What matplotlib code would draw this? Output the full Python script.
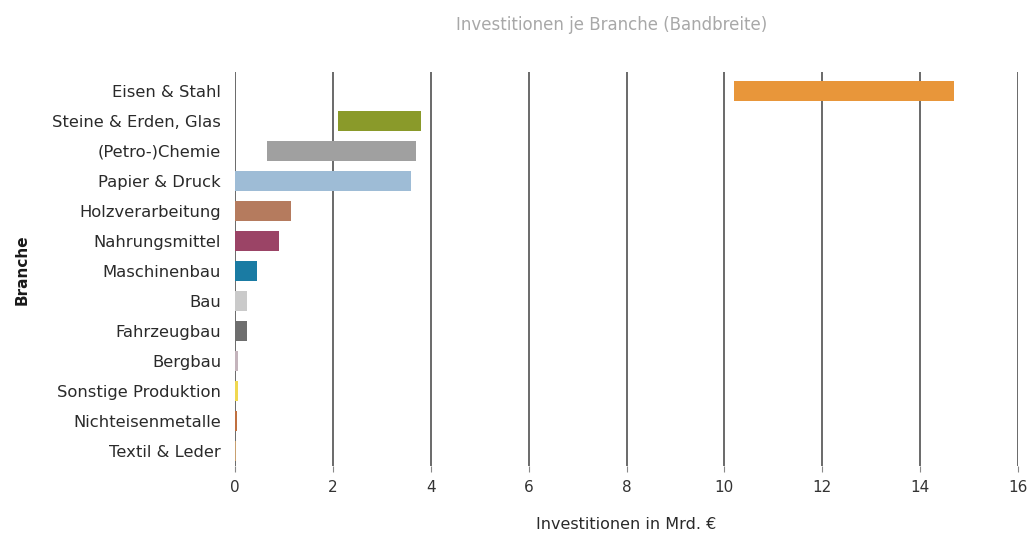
import matplotlib.pyplot as plt

branchen = ["Eisen & Stahl", "Steine & Erden, Glas", "(Petro-)Chemie", "Papier & Druck",
            "Holzverarbeitung", "Nahrungsmittel", "Maschinenbau", "Bau", "Fahrzeugbau",
            "Bergbau", "Sonstige Produktion", "Nichteisenmetalle", "Textil & Leder"]
# Bandbreite: untere und obere Grenze in Mrd. EUR
von = [10.2, 2.1, 0.65, 0.0, 0.0, 0.0, 0.0, 0.0, 0.0, 0.0, 0.0, 0.0, 0.0]
bis = [14.7, 3.8, 3.7, 3.6, 1.15, 0.9, 0.45, 0.25, 0.25, 0.07, 0.07, 0.05, 0.03]
farben = ["#E8963A", "#8A9A2A", "#A0A0A0", "#9EBCD6", "#B57B5E", "#9B4466", "#1A7BA3",
          "#CACACA", "#6E6E6E", "#C4B4BC", "#F0D850", "#C07040", "#C8A070"]

plt.rcParams['font.family'] = ['DejaVu Sans']

fig = plt.figure(figsize=(10.3, 5.35), dpi=100)
ax = fig.add_axes([235 / 1030, 1 - 466 / 535, (1018 - 235) / 1030, 394 / 535])

for x in range(0, 17, 2):
    ax.axvline(x, color="#505050", lw=1.2, zorder=0)

breite = [b - v for v, b in zip(von, bis)]
ax.barh(range(len(branchen)), breite, left=von, color=farben, height=0.66, zorder=2)

ax.set_xlim(0, 16)
ax.set_ylim(12.5, -0.633)
ax.set_xticks(range(0, 17, 2))
ax.set_yticks(range(len(branchen)))
ax.set_yticklabels(branchen, fontsize=11.8, color="#2a2a2a")
ax.tick_params(axis="y", length=0, pad=10)
ax.tick_params(axis="x", length=4, color="#888888", labelsize=11, labelcolor="#333333", pad=6)
for s in ax.spines.values():
    s.set_visible(False)

ax.set_xlabel("Investitionen in Mrd. €", fontsize=11.5, color="#2a2a2a", labelpad=16)
fig.text(22 / 1030, 1 - 270 / 535, "Branche", rotation=90, ha="center", va="center",
         fontsize=11, fontweight="bold", color="#1a1a1a")
fig.text(612 / 1030, 1 - 25 / 535, "Investitionen je Branche (Bandbreite)",
         ha="center", va="center", fontsize=12, color="#A8A8A8")

fig.savefig("out.png", dpi=100)
